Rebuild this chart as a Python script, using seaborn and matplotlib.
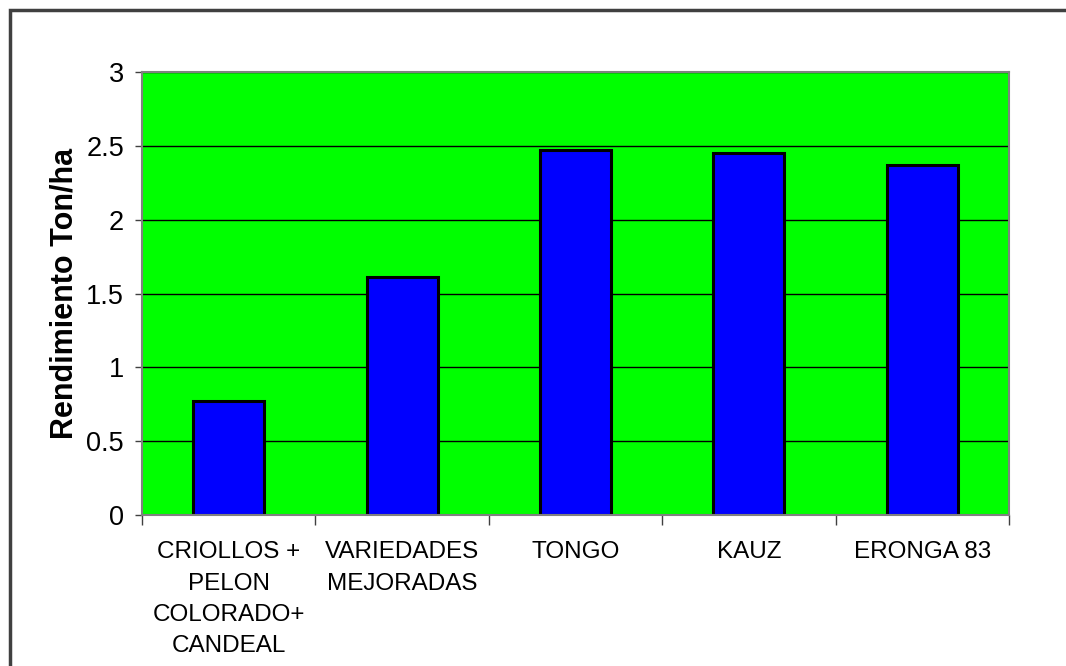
import matplotlib
matplotlib.use("Agg")
import matplotlib.pyplot as plt
import seaborn as sns
import pandas as pd
import numpy as np
from matplotlib.patches import Rectangle

categories = ["CRIOLLOS +\nPELON\nCOLORADO+\nCANDEAL", "VARIEDADES\nMEJORADAS", "TONGO", "KAUZ", "ERONGA 83"]
values = [0.77, 1.61, 2.47, 2.45, 2.37]
yticks = [0, 0.5, 1, 1.5, 2, 2.5, 3]
ytick_labels = ["0", "0.5", "1", "1.5", "2", "2.5", "3"]

sns.set_theme(style="white")
plt.rcParams['font.family'] = ['Liberation Sans', 'DejaVu Sans']
plt.rcParams['text.color'] = 'black'
plt.rcParams['xtick.color'] = 'black'
plt.rcParams['ytick.color'] = 'black'
plt.rcParams['axes.labelcolor'] = 'black'

df = pd.DataFrame({"cat": categories, "val": values})

fig = plt.figure(figsize=(10.66, 6.66), dpi=100)
fig.patch.set_facecolor("white")
# outer border
fig.add_artist(Rectangle((10/1066, -0.05), 1.2, (666-10)/666 + 0.05, transform=fig.transFigure,
                         fill=False, edgecolor="#404040", linewidth=2.5))

ax = fig.add_axes([142/1066, (666-515)/666, (1009-142)/1066, (515-72)/666])
ax.set_facecolor("#00FF00")
ax.set_axisbelow(True)

sns.barplot(data=df, x="cat", y="val", ax=ax, color="#0000FF", saturation=1,
            edgecolor="black", linewidth=2.2, width=0.41)

ax.set_ylim(0, 3)
ax.set_xlim(-0.5, len(categories) - 0.5)
ax.set_yticks(yticks)
ax.set_yticklabels(ytick_labels, fontsize=19.5, color="black")
ax.yaxis.grid(True, color="black", linewidth=1)
ax.xaxis.grid(False)

bounds = np.arange(len(categories) + 1) - 0.5
ax.set_xticks(bounds)
ax.set_xticklabels([""] * len(bounds))
ax.set_xticks(np.arange(len(categories)), minor=True)
ax.set_xticklabels(categories, minor=True, fontsize=17.5, linespacing=1.55, va="top", color="black")
ax.tick_params(axis="x", which="major", length=7, width=1, color="#404040", direction="out", bottom=True)
ax.tick_params(axis="x", which="minor", length=0, pad=19, bottom=True)
ax.tick_params(axis="y", length=5, width=1, color="#404040", direction="out", left=True, pad=8)

for s in ax.spines.values():
    s.set_color("#808080")
    s.set_linewidth(1.5)

ax.set_xlabel("")
ax.set_ylabel("Rendimiento Ton/ha", fontsize=22, fontweight="bold", labelpad=5, color="black")

fig.savefig("out.png", dpi=100)
